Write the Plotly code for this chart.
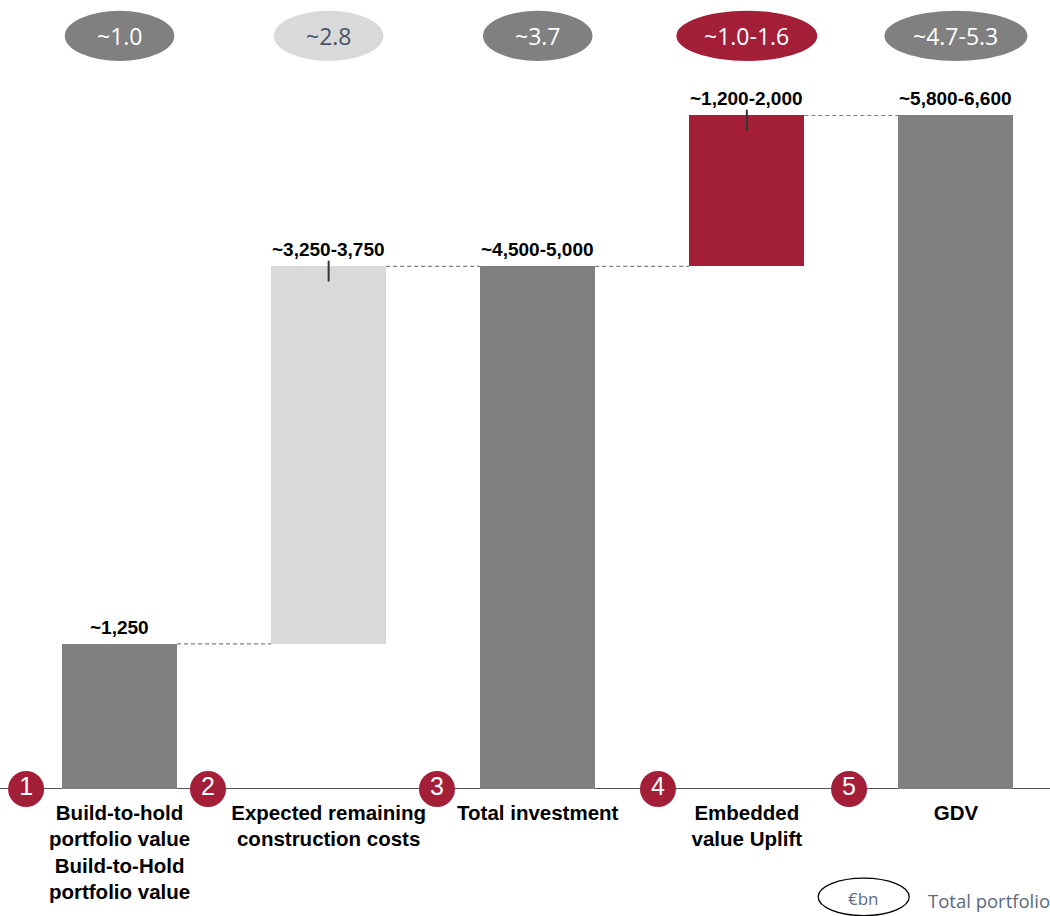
import plotly.graph_objects as go

# ---- data -------------------------------------------------------------
categories = [
    "Build-to-hold<br>portfolio value<br>Build-to-Hold<br>portfolio value",
    "Expected remaining<br>construction costs",
    "Total investment",
    "Embedded<br>value Uplift",
    "GDV",
]
# step values (EUR m); totals are bars from zero, steps float on the running sum
step_values = [1250, 3250, None, 1300, None]
value_labels = ["~1,250", "~3,250-3,750", "~4,500-5,000", "~1,200-2,000", "~5,800-6,600"]
bubble_labels = ["~1.0", "~2.8", "~3.7", "~1.0-1.6", "~4.7-5.3"]
step_numbers = ["1", "2", "3", "4", "5"]
range_steps = [1, 3]  # steps whose value is a range (small marker at the top)

# ---- styling ----------------------------------------------------------
DARK = "#808080"
LIGHT = "#D9D9D9"
RED = "#A31E37"
SLATE = "#44546A"
bar_colors = [DARK, LIGHT, DARK, RED, DARK]
bubble_fill = [DARK, LIGHT, DARK, RED, DARK]
bubble_text = ["white", SLATE, "white", "white", "white"]
bubble_halfwidth = [0.262, 0.262, 0.262, 0.337, 0.342]
number_x = [-0.447, 0.423, 1.518, 2.575, 3.489]

# running totals -> base and height of each bar
bases, heights = [], []
running = 0
for v in step_values:
    if v is None:  # total bar
        bases.append(0)
        heights.append(running)
    else:
        bases.append(running)
        heights.append(v)
        running += v
tops = [b + h for b, h in zip(bases, heights)]
x = list(range(len(categories)))

fig = go.Figure()
fig.add_trace(go.Bar(
    x=x, y=heights, base=bases, width=0.55,
    marker=dict(color=bar_colors, line=dict(width=0)),
    hoverinfo="skip", showlegend=False,
))

# dashed connectors between consecutive bars
BW = 0.275
for i in range(len(x) - 1):
    fig.add_trace(go.Scatter(
        x=[x[i] + BW, x[i + 1] - BW], y=[tops[i], tops[i]],
        mode="lines", line=dict(color="#7F7F7F", width=1.2, dash="4px,3px"),
        hoverinfo="skip", showlegend=False,
    ))

# small range markers at the top of the ranged steps
for i in range_steps:
    fig.add_trace(go.Scatter(
        x=[x[i], x[i]], y=[tops[i] + 50, tops[i] - 130],
        mode="lines", line=dict(color="#333333", width=2),
        hoverinfo="skip", showlegend=False,
    ))

# numbered red circles on the baseline
fig.add_trace(go.Scatter(
    x=number_x, y=[0] * len(number_x), mode="markers+text",
    marker=dict(size=36, color=RED, line=dict(width=0)),
    text=step_numbers, textposition="middle center",
    textfont=dict(family="Liberation Sans, Arial, sans-serif", size=25, color="white"),
    cliponaxis=False, hoverinfo="skip", showlegend=False,
))

annotations = []
# value labels above bars
for i in x:
    annotations.append(dict(
        x=x[i], y=tops[i], xref="x", yref="y", text=value_labels[i],
        showarrow=False, yanchor="bottom", yshift=4,
        font=dict(family="Liberation Sans, Arial, sans-serif", size=19,
                  color="black", weight="bold"),
    ))

shapes = []
# bubbles along the top
for i in x:
    shapes.append(dict(
        type="circle", xref="x", yref="paper",
        x0=x[i] - bubble_halfwidth[i], x1=x[i] + bubble_halfwidth[i],
        y0=0.972, y1=1.039, fillcolor=bubble_fill[i], line=dict(width=0),
        layer="above",
    ))
    annotations.append(dict(
        x=x[i], y=1.0053, xref="x", yref="paper", text=bubble_labels[i],
        showarrow=False, yanchor="middle",
        font=dict(family="Open Sans, sans-serif", size=23, color=bubble_text[i]),
    ))

# baseline
shapes.append(dict(
    type="line", xref="paper", yref="y", x0=-0.0145, x1=1, y0=0, y1=0,
    line=dict(color="#1A1A1A", width=1.6), layer="below",
))

# unit legend at the bottom right
shapes.append(dict(
    type="circle", xref="paper", yref="paper",
    x0=0.776, x1=0.864, y0=-0.169, y1=-0.119,
    line=dict(color="black", width=1.3), fillcolor="rgba(0,0,0,0)",
))
annotations.append(dict(
    x=0.820, y=-0.146, xref="paper", yref="paper", text="€bn",
    showarrow=False, xanchor="center", yanchor="middle",
    font=dict(family="Open Sans, sans-serif", size=17, color="#5B6A80"),
))
annotations.append(dict(
    x=0.880, y=-0.149, xref="paper", yref="paper", text="Total portfolio",
    showarrow=False, xanchor="left", yanchor="middle",
    font=dict(family="Open Sans, sans-serif", size=18.5, color="#5B6A80"),
))

fig.update_layout(
    width=1050, height=916,
    margin=dict(l=15, r=0, t=40, b=127),
    paper_bgcolor="white", plot_bgcolor="white",
    bargap=0,
    xaxis=dict(
        range=[-0.5, 4.45], tickmode="array", tickvals=x, ticktext=categories,
        showgrid=False, zeroline=False, showline=False, ticks="",
        ticklabelstandoff=9,
        tickfont=dict(family="Liberation Sans, Arial, sans-serif", size=20.5,
                      color="black", weight="bold"),
        fixedrange=True,
    ),
    yaxis=dict(range=[0, 6450], visible=False, showgrid=False, zeroline=False,
               fixedrange=True),
    shapes=shapes, annotations=annotations,
)

fig.write_html("out.html")
